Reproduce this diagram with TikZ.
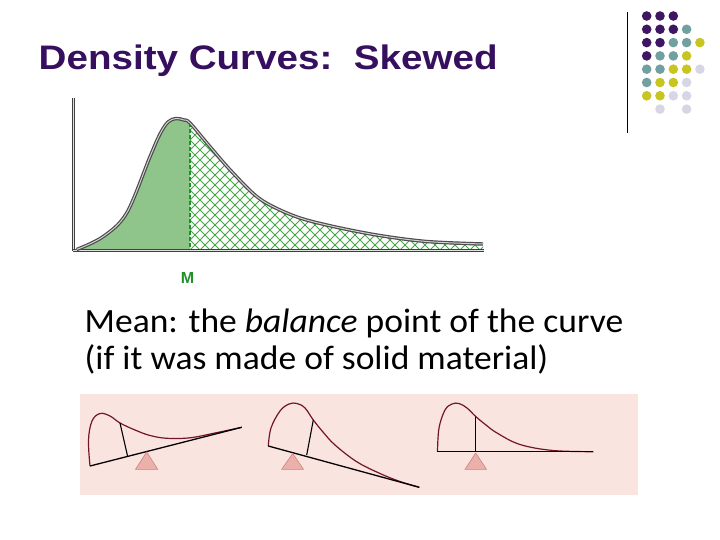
\documentclass[tikz,border=0pt]{standalone}
\usepackage{fontspec}
\setmainfont{Carlito}
\newfontfamily\titlefont{Liberation Sans}
\definecolor{titlepurple}{RGB}{55,15,95}
\definecolor{dotP}{RGB}{62,22,98}
\definecolor{dotT}{RGB}{112,160,160}
\definecolor{dotY}{RGB}{200,196,32}
\definecolor{dotL}{RGB}{214,214,230}
\definecolor{areagreen}{RGB}{143,196,138}
\definecolor{hatchgreen}{RGB}{70,165,70}
\definecolor{mgreen}{RGB}{30,145,40}
\definecolor{panelpink}{RGB}{250,228,224}
\definecolor{maroon}{RGB}{115,20,45}
\definecolor{fulcrum}{RGB}{236,176,170}
\definecolor{fulcrumedge}{RGB}{205,130,125}
\tikzset{
  dotstyle/.style={circle,inner sep=0pt,minimum size=9.6pt},
  axisline/.style={draw=black!75,double=black!12,double distance=0.9pt,line width=0.9pt},
  curveline/.style={draw=black!70,double=black!18,double distance=1pt,line width=1.2pt},
  hatch/.style={hatchgreen,line width=1pt},
  beam/.style={black,line width=1.3pt},
  meanline/.style={black,line width=1.1pt},
  skew/.style={maroon,line width=1.2pt},
  fulc/.style={fill=fulcrum,draw=fulcrumedge,line width=0.6pt},
  bodytext/.style={anchor=base west,inner sep=0pt,font=\fontsize{34}{40}\selectfont,xscale=1.045},
}
\begin{document}
\begin{tikzpicture}[x=1pt,y=-1pt]
\useasboundingbox (0,0) rectangle (720,540);
\fill[white] (0,0) rectangle (720,540);

% title
\node[anchor=base west,inner sep=0pt,font=\titlefont\bfseries\fontsize{34}{40}\selectfont,text=titlepurple,xscale=1.135] (title) at (38.5,70) {Density Curves:\ \ Skewed};

% decorative bar and dots
\draw[black,line width=1pt] (627,12) -- (627,133);
\def\rowdots#1#2{%
  \foreach \c/\col in {#2} {\node[dotstyle,fill=\col] at ({646.7+13.3*\c},{#1}) {};}}
\rowdots{16}{0/dotP,1/dotP,2/dotP}
\rowdots{29.3}{0/dotP,1/dotP,2/dotP,3/dotT}
\rowdots{42.6}{0/dotP,1/dotP,2/dotT,3/dotT,4/dotY}
\rowdots{55.9}{0/dotP,1/dotT,2/dotT,3/dotY}
\rowdots{69.2}{0/dotT,1/dotT,2/dotY,3/dotY,4/dotL}
\rowdots{82.5}{0/dotT,1/dotY,2/dotY,3/dotL}
\rowdots{95.8}{0/dotY,1/dotY,2/dotL,3/dotL}
\rowdots{109.1}{1/dotL,3/dotL}

% density curve
\def\curvepath{plot[smooth,tension=0.55] coordinates {(76.7,249.5) (103,236.7) (126.7,213) (150,156.7) (160,134) (168,122) (176,118.5) (184,120) (190,123) (210,146.7) (233,173) (260,199) (293,215.5) (326.7,225) (376.7,235) (426.7,241.5) (483,244)}}
\begin{scope}
  \clip (73,90) rectangle (190,250);
  \fill[areagreen] \curvepath -- (483,250) -- (76.7,250) -- cycle;
\end{scope}
\begin{scope}
  \clip (190,90) rectangle (483,250);
  \clip \curvepath -- (483,250) -- (76.7,250) -- cycle;
  \foreach \i in {-100,-90,...,500} {
    \draw[hatch] (\i,250) -- ++(170,-170);
    \draw[hatch] (\i,250) -- ++(-170,-170);
  }
\end{scope}
\draw[mgreen,line width=1.3pt,dash pattern=on 4pt off 2pt] (190,123) -- (190,250);
\draw[axisline] (73.5,98) -- (73.5,250.5);
\draw[axisline] (73,250.5) -- (484,250.5);
\draw[curveline] \curvepath;
\node[font=\titlefont\bfseries\fontsize{16}{18}\selectfont,text=mgreen,inner sep=0pt] (mlabel) at (187.5,277.5) {M};

% text
\node[bodytext] (line1) at (84.5,332) {Mean: the \textit{balance} point of the curve};
\node[bodytext] (line2) at (84.5,369.5) {(if it was made of solid material)};

% balance panel
\fill[panelpink] (80,394) rectangle (638,495);

% diagram 1
\draw[skew] plot[smooth,tension=0.6] coordinates {(90,466) (88.5,440) (92,421) (100,413.5) (110,416) (120,423) (135,430) (150,435.5) (167,438.3) (190,437.8) (215,433) (241.7,427.3)};
\draw[meanline] (120,423) -- (127.7,456.7);
\draw[beam] (90,466) -- (241.7,427.3);
\draw[fulc] (146.7,452) -- (157.7,469.3) -- (135.5,469.3) -- cycle;

% diagram 2
\draw[skew] plot[smooth,tension=0.6] coordinates {(268.3,446) (271,428) (280,411) (289,404) (297,403.5) (305,408) (313.3,420) (323,432) (335,445) (356.7,461.7) (380,473.5) (400,481.5) (419.3,487.3)};
\draw[meanline] (313.3,420) -- (306.7,455);
\draw[beam] (268.3,446) -- (419.3,487.3);
\draw[fulc] (292.7,453.5) -- (303.5,469.3) -- (281.7,469.3) -- cycle;

% diagram 3
\draw[skew] plot[smooth,tension=0.6] coordinates {(437.5,451.7) (439,428) (445,410) (452,404) (459,403.5) (467,408) (475.7,416.5) (486,425) (497,433) (520,444.5) (553,450.5) (593.3,451.7)};
\draw[meanline] (475.7,416.5) -- (475.7,451.7);
\draw[beam] (437.3,451.7) -- (593.3,451.7);
\draw[fulc] (475.7,453) -- (486.5,469.3) -- (465,469.3) -- cycle;
\end{tikzpicture}
\end{document}
